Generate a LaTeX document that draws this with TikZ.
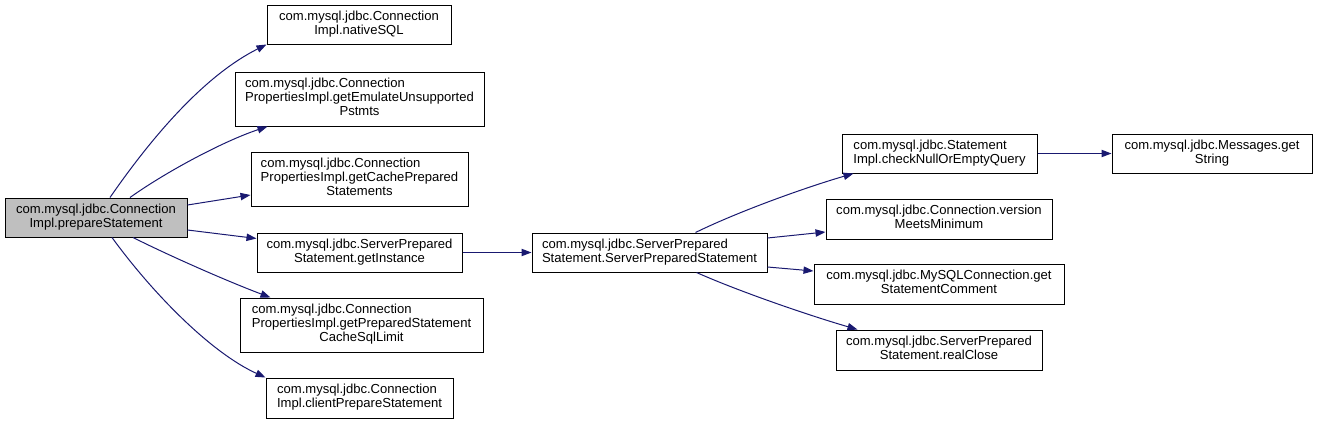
\documentclass[tikz,border=0pt]{standalone}
\usepackage{fontspec}
\setmainfont{Liberation Sans}
\usepackage{tikz}
\usetikzlibrary{arrows.meta,calc}

\definecolor{edgeblue}{HTML}{191970}
\definecolor{curgray}{HTML}{BFBFBF}

% first lines left, last line centred
\newcommand{\fnlabel}[2]{\begin{tabular}{@{}l@{}}#1\\\multicolumn{1}{@{}c@{}}{#2}\end{tabular}}

\begin{document}
\begin{tikzpicture}[x = .75pt, y = -.75pt,
    fnbox/.style 2 args = {draw = black, line width = .75pt, inner sep = 0pt,
        minimum width = #1*0.75pt, minimum height = #2*0.75pt,
        font = \fontsize{9.8}{10.5}\selectfont},
    call/.style = {draw = edgeblue, line width = .75pt, -{Triangle[length = 7.5pt, width = 5.5pt]}}]
    \useasboundingbox (0,0) rectangle (1317,425);
    % caller
    \node[fnbox = {182}{39}, fill = curgray] (main) at (96,217.5) {\fnlabel{com.mysql.jdbc.Connection}{Impl.prepareStatement}};
    % first level
    \node[fnbox = {184}{39}] (native) at (359,24.5) {\fnlabel{com.mysql.jdbc.Connection}{Impl.nativeSQL}};
    \node[fnbox = {249}{54}] (emul) at (359.5,99) {\fnlabel{com.mysql.jdbc.Connection\\PropertiesImpl.getEmulateUnsupported}{Pstmts}};
    \node[fnbox = {217}{54}] (cache) at (359.5,179) {\fnlabel{com.mysql.jdbc.Connection\\PropertiesImpl.getCachePrepared}{Statements}};
    \node[fnbox = {205}{39}] (getinst) at (359.5,252.5) {\fnlabel{com.mysql.jdbc.ServerPrepared}{Statement.getInstance}};
    \node[fnbox = {243}{54}] (cachelimit) at (361.5,325) {\fnlabel{com.mysql.jdbc.Connection\\PropertiesImpl.getPreparedStatement}{CacheSqlLimit}};
    \node[fnbox = {187}{40}] (client) at (359.5,398) {\fnlabel{com.mysql.jdbc.Connection}{Impl.clientPrepareStatement}};
    % second level
    \node[fnbox = {235}{39}] (sps) at (649.5,252.5) {\fnlabel{com.mysql.jdbc.ServerPrepared}{Statement.ServerPreparedStatement}};
    \node[fnbox = {195}{39}] (check) at (939.5,153.5) {\fnlabel{com.mysql.jdbc.Statement}{Impl.checkNullOrEmptyQuery}};
    \node[fnbox = {200}{39}] (msgs) at (1212,153.5) {\fnlabel{com.mysql.jdbc.Messages.get}{String}};
    \node[fnbox = {226}{40}] (version) at (939,219) {\fnlabel{com.mysql.jdbc.Connection.version}{MeetsMinimum}};
    \node[fnbox = {250}{40}] (comment) at (939,284) {\fnlabel{com.mysql.jdbc.MySQLConnection.get}{StatementComment}};
    \node[fnbox = {206}{40}] (close) at (939,350) {\fnlabel{com.mysql.jdbc.ServerPrepared}{Statement.realClose}};

    \draw[call] ($(main.north)+(14,0)$) .. controls +(45,-65) and +(-60,30) .. (native.south west);
    \draw[call] ($(main.north)+(34,0)$) .. controls +(35,-25) and +(-45,15) .. ($(emul.south west)+(33,0)$);
    \draw[call] ($(main.east)+(0,-12.5)$) -- ($(cache.west)+(0,16)$);
    \draw[call] ($(main.east)+(0,12.5)$) -- ($(getinst.west)+(0,-14)$);
    \draw[call] ($(main.south)+(37,0)$) .. controls +(40,20) and +(-40,-15) .. ($(cachelimit.north west)+(31,0)$);
    \draw[call] ($(main.south)+(16,0)$) .. controls +(40,55) and +(-55,-25) .. (client.north west);
    \draw[call] (getinst) -- (sps);
    \draw[call] ($(sps.north)+(46,0)$) .. controls +(45,-22) and +(-45,13) .. ($(check.south west)+(12,0)$);
    \draw[call] ($(sps.east)+(0,-14.5)$) -- ($(version.west)+(0,13)$);
    \draw[call] ($(sps.east)+(0,14.5)$) -- ($(comment.west)+(0,-13)$);
    \draw[call] ($(sps.south)+(47,0)$) .. controls +(45,20) and +(-45,-13) .. ($(close.north west)+(22,0)$);
    \draw[call] (check) -- (msgs);
\end{tikzpicture}
\end{document}
